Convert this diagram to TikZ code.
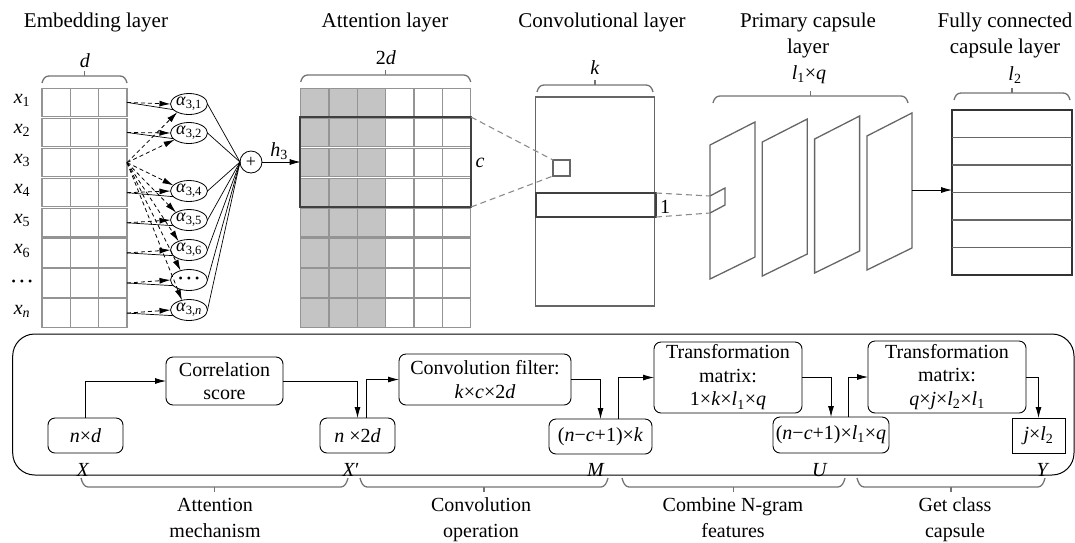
\documentclass[tikz,border=0pt]{standalone}
\usepackage{fontspec}
\setmainfont{Liberation Serif}
\usetikzlibrary{arrows.meta,shapes.geometric}
\newcommand\Vr[1]{\textit{#1}}
\newcommand\Sb[1]{\textsubscript{#1}}
\newcommand\Dts{{\fontsize{12}{12}\selectfont •\hspace{4pt}•\hspace{4pt}•}}
\newcommand\TopBrace[3]{%
  \draw[brace] (#1,#3+7) .. controls (#1+1,#3+3) and (#1+3,#3) .. (#1+7,#3) -- (#2-7,#3) .. controls (#2-3,#3) and (#2-1,#3+3) .. (#2,#3+7);
  \draw[brace] ({(#1+#2)/2},#3) -- ({(#1+#2)/2},#3-5);}
\newcommand\BotBrace[3]{%
  \draw[brace] (#1,#3-9) .. controls (#1+1,#3-5) and (#1+3,#3) .. (#1+7,#3) -- (#2-7,#3) .. controls (#2-3,#3) and (#2-1,#3-5) .. (#2,#3-9);
  \draw[brace] ({(#1+#2)/2},#3) -- ({(#1+#2)/2},#3+5);}
\begin{document}
\begin{tikzpicture}[x=1pt,y=-1pt,
  every node/.style={font=\fontsize{20}{23.5}\selectfont, inner sep=0pt, outer sep=0pt},
  ttl/.style={font=\fontsize{21}{24}\selectfont, anchor=base},
  lbl/.style={anchor=base},
  cell/.style={draw=black!42, line width=1.1pt},
  brace/.style={draw=black!55, line width=1.3pt},
  arr/.style={-{Latex[length=11pt,width=6pt]}, line width=0.8pt},
  dsh/.style={dash pattern=on 4pt off 3pt},
  alp/.style={ellipse, draw, line width=0.8pt, minimum width=37pt, minimum height=21pt, fill=white, font=\fontsize{18}{20}\selectfont},
  rbox/.style={draw, rounded corners=7pt, line width=0.9pt, align=center},
  gline/.style={draw=black!60, line width=1.3pt},
  gdash/.style={draw=black!45, line width=1.1pt, dash pattern=on 6pt off 4pt},
]
\useasboundingbox (0,0) rectangle (1075,542);
% ---------------- titles
\node[ttl] (t1) at (96,27) {Embedding layer};
\node[ttl] (t2) at (385,27) {Attention layer};
\node[ttl] (t3) at (602,27) {Convolutional layer};
\node[ttl] (t4a) at (808,27) {Primary capsule};
\node[ttl] (t4b) at (808,53) {layer};
\node[ttl] (t5a) at (1005,27) {Fully connected};
\node[ttl] (t5b) at (1005,53) {capsule layer};
% ---------------- embedding grid
\foreach \i in {0,...,7}{
  \pgfmathsetmacro\yt{87.3+30.1*\i+0.8}
  \pgfmathsetmacro\yb{87.3+30.1*(\i+1)-0.8}
  \draw[cell] (42,\yt) rectangle (127,\yb);
  \draw[cell] (70.3,\yt) -- (70.3,\yb) (98.7,\yt) -- (98.7,\yb);
}
\foreach \i in {1,...,8}{\coordinate (r\i) at (127,{102.4+30.1*(\i-1)});}
\foreach \i/\t in {1/1,2/2,3/3,4/4,5/5,6/6,8/\Vr{n}}{
  \node[lbl] (x\i) at (22,{103.4+30.1*(\i-1)}) {\Vr{x}\Sb{\t}};}
\node (x7) at (22,283) {\Dts};
\TopBrace{42}{127}{76}
\node[lbl] (dl) at (85,67) {\Vr{d}};
% ---------------- attention weights
\node[alp] (a1) at (189,104) {\Vr{α}\Sb{3,1}};
\node[alp] (a2) at (189,133) {\Vr{α}\Sb{3,2}};
\node[alp] (a4) at (189,191) {\Vr{α}\Sb{3,4}};
\node[alp] (a5) at (189,220) {\Vr{α}\Sb{3,5}};
\node[alp] (a6) at (189,250) {\Vr{α}\Sb{3,6}};
\node[alp] (a7) at (189,280) {\Dts};
\node[alp] (a8) at (189,310) {\Vr{α}\Sb{3,\Vr{n}}};
\node[circle, draw, line width=0.8pt, minimum size=22pt, font=\fontsize{18}{18}\selectfont] (plus) at (251,162) {+};
\foreach \i in {1,2,4,5,6,7,8}{
  \draw[line width=0.7pt] (r\i) -- (a\i.200);
  \draw[dsh,arr] (r\i) -- (a\i.west);
  \draw[line width=0.7pt] (a\i.east) -- (plus.west);
}
\foreach \i/\an in {1/215,2/205,4/160,5/150,6/140,7/132,8/126}{
  \draw[dsh,arr] (r3) -- (a\i.\an);}
\coordinate (attL) at (300.7,162);
\draw[arr] (plus.east) -- (attL);
\node[lbl] (h3) at (279,156) {\Vr{h}\Sb{3}};
% ---------------- attention layer
\foreach \i in {0,...,7}{
  \pgfmathsetmacro\yt{87.3+30.1*\i+0.8}
  \pgfmathsetmacro\yb{87.3+30.1*(\i+1)-0.8}
  \fill[black!23] (300.7,\yt) rectangle (385.7,\yb);
  \draw[cell] (300.7,\yt) rectangle (470.7,\yb);
  \foreach \c in {1,...,5}{\draw[cell] ({300.7+28.33*\c},\yt) -- ({300.7+28.33*\c},\yb);}
}
\node[draw=black!75, line width=2.2pt, minimum width=170.7pt, minimum height=90pt] (win) at (385.7,162) {};
\TopBrace{300.7}{470.7}{75}
\node[lbl] (dl2) at (386,64) {2\Vr{d}};
\node[lbl] (cl) at (480,167) {\Vr{c}};
% ---------------- convolutional layer
\node[draw=black!60, line width=1.4pt, minimum width=119pt, minimum height=209pt] (convL) at (595,201.5) {};
\node[draw=black!60, line width=1.2pt, minimum width=17pt, minimum height=16pt] (sq) at (561.5,168) {};
\node[draw=black!75, line width=2pt, minimum width=120pt, minimum height=24pt] (strip) at (596,205) {};
\node[lbl] (one) at (665,213) {1};
\TopBrace{537}{653}{85}
\node[lbl] (kl) at (595,74) {\Vr{k}};
\draw[gdash] (win.north east) -- (sq.north west);
\draw[gdash] (win.south east) -- (sq.south west);
% ---------------- primary capsule layer
\foreach \k in {0,...,3}{
  \pgfmathsetmacro\px{710+52.3*\k}
  \pgfmathsetmacro\py{145-3*\k}
  \draw[gline, line join=miter] (\px,\py) -- (\px,\py+134) -- (\px+45,\py+112) -- (\px+45,\py-23) -- cycle;
}
\coordinate (bu) at (710,196);
\coordinate (bd) at (710,213);
\draw[gline] (bu) -- (725,188) -- (725,205) -- (bd);
\draw[gdash] (strip.north east) -- (bu);
\draw[gdash] (strip.south east) -- (bd);
\TopBrace{713}{908}{96}
\node[lbl] (lq) at (809,79) {\Vr{l}\Sb{1}×\Vr{q}};
% ---------------- fully connected capsule layer
\node[draw=black!80, line width=1.3pt, minimum width=120pt, minimum height=165pt] (fc) at (1012,192.5) {};
\foreach \j in {1,...,5}{\draw[draw=black!60, line width=1.3pt] (952,{110+27.5*\j}) -- (1072,{110+27.5*\j});}
\TopBrace{954}{1070}{93}
\node[lbl] (l2) at (1015,80) {\Vr{l}\Sb{2}};
\coordinate (p4r) at (912,190);
\draw[arr] (p4r) -- (p4r -| fc.west);
% ---------------- bottom panel
\draw[line width=1pt, rounded corners=22pt] (12.7,334) rectangle (1074,475);
\node[rbox, minimum width=75pt, minimum height=35pt] (bX) at (85.5,435.5) {\Vr{n}×\Vr{d}};
\node[rbox, minimum width=117pt, minimum height=48pt] (bcorr) at (224.5,381) {Correlation\\score};
\node[rbox, minimum width=75pt, minimum height=35pt] (bX2) at (357.5,435.5) {\Vr{n} ×2\Vr{d}};
\node[rbox, minimum width=172pt, minimum height=51pt] (bconv) at (485,379.5) {Convolution filter:\\\Vr{k}×\Vr{c}×2\Vr{d}};
\node[rbox, minimum width=103pt, minimum height=35pt] (bM) at (600.5,436.5) {(\Vr{n}−\Vr{c}+1)×\Vr{k}};
\node[rbox, minimum width=148pt, minimum height=71pt] (bT1) at (728,377.5) {Transformation\\matrix:\\1×\Vr{k}×\Vr{l}\Sb{1}×\Vr{q}};
\node[rbox, minimum width=116pt, minimum height=36pt] (bU) at (831,435) {(\Vr{n}−\Vr{c}+1)×\Vr{l}\Sb{1}×\Vr{q}};
\node[rbox, minimum width=158pt, minimum height=72pt] (bT2) at (947,377) {Transformation\\matrix:\\\Vr{q}×\Vr{j}×\Vr{l}\Sb{2}×\Vr{l}\Sb{1}};
\node[draw, line width=0.9pt, minimum width=53pt, minimum height=35pt] (bY) at (1038.5,435.5) {\Vr{j}×\Vr{l}\Sb{2}};
\draw[arr] (bX.north) |- (bcorr.west);
\draw[arr] (bcorr.east) -| (bX2.north);
\draw[arr] ([xshift=8.5pt]bX2.north) |- (bconv.west);
\draw[arr] (bconv.east) -| (bM.north);
\draw[arr] ([xshift=17.5pt]bM.north) |- (bT1.west);
\draw[arr] (bT1.east) -| (bU.north);
\draw[arr] ([xshift=17pt]bU.north) |- (bT2.west);
\draw[arr] (bT2.east) -| (bY.north);
\node[lbl] (lX) at (83,476) {\Vr{X}};
\node[lbl] (lX2) at (351,476) {\Vr{X}′};
\node[lbl] (lM) at (596,476) {\Vr{M}};
\node[lbl] (lU) at (820,476) {\Vr{U}};
\node[lbl] (lY) at (1043,476) {\Vr{Y}};
% ---------------- bottom braces
\BotBrace{81}{348}{487}
\BotBrace{360}{608}{487}
\BotBrace{622}{845}{487}
\BotBrace{857}{1045}{487}
\node[lbl] (g1a) at (215,511) {Attention};
\node[lbl] (g1b) at (215,537) {mechanism};
\node[lbl] (g2a) at (481,511) {Convolution};
\node[lbl] (g2b) at (481,537) {operation};
\node[lbl] (g3a) at (733,511) {Combine N-gram};
\node[lbl] (g3b) at (733,537) {features};
\node[lbl] (g4a) at (955,511) {Get class};
\node[lbl] (g4b) at (955,537) {capsule};
\end{tikzpicture}
\end{document}
